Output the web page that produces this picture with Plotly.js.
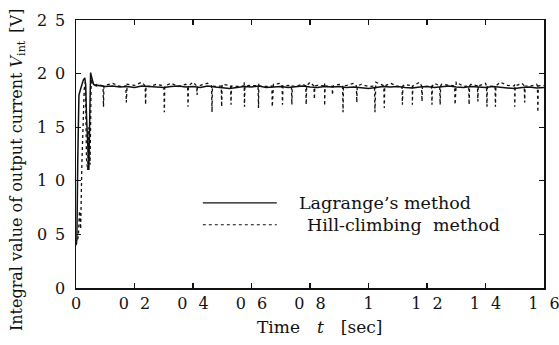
<!DOCTYPE html>
<html>
<head>
<meta charset="utf-8">
<script src="https://cdn.plot.ly/plotly-3.0.1.min.js"></script>
<style>html,body{margin:0;padding:0;background:#fff;}#chart{width:559px;height:345px;}</style>
</head>
<body>
<div id="chart"></div>
<script>
// ---- data ----
// Lagrange's method: start-up transient
const lagEarlyT = [0, 0.003, 0.006, 0.01, 0.015, 0.02, 0.025, 0.03, 0.033, 0.036, 0.04, 0.044, 0.047, 0.05, 0.053, 0.056, 0.06, 0.065, 0.07];
const lagEarlyV = [0.40, 0.45, 1.20, 1.80, 1.85, 1.90, 1.94, 1.96, 1.90, 1.60, 1.25, 1.10, 1.60, 2.01, 1.97, 1.93, 1.90, 1.89, 1.885];
// steady-state sample times (shared by both series)
const steadyT = [0.075,0.1,0.125,0.15,0.175,0.2,0.225,0.25,0.275,0.3,0.325,0.35,0.375,0.4,0.425,0.45,0.475,0.5,0.525,0.55,0.575,0.6,0.625,0.65,0.675,0.7,0.725,0.75,0.775,0.8,0.825,0.85,0.875,0.9,0.925,0.95,0.975,1.0,1.025,1.05,1.075,1.1,1.125,1.15,1.175,1.2,1.225,1.25,1.275,1.3,1.325,1.35,1.375,1.4,1.425,1.45,1.475,1.5,1.525,1.55,1.575,1.6];
const lagSteadyV = [1.89,1.88,1.885,1.875,1.88,1.87,1.885,1.88,1.875,1.87,1.88,1.885,1.875,1.88,1.87,1.885,1.875,1.865,1.86,1.87,1.88,1.875,1.885,1.87,1.875,1.88,1.87,1.88,1.885,1.875,1.87,1.88,1.875,1.88,1.87,1.875,1.865,1.86,1.87,1.88,1.875,1.88,1.87,1.865,1.875,1.88,1.87,1.875,1.885,1.875,1.87,1.88,1.875,1.87,1.88,1.875,1.865,1.86,1.87,1.875,1.865,1.87];
// Hill-climbing method: start-up, baseline and periodic dips
const hcEarlyT = [0, 0.004, 0.008, 0.012, 0.016, 0.02, 0.024, 0.028, 0.032, 0.036, 0.04, 0.044, 0.048, 0.052, 0.056, 0.06];
const hcEarlyV = [0.40, 0.45, 0.48, 0.72, 0.55, 1.15, 1.50, 1.85, 1.92, 1.20, 1.10, 1.50, 1.15, 1.95, 1.90, 1.89];
const hcBaseV = [1.90,1.89,1.91,1.88,1.90,1.89,1.92,1.88,1.90,1.89,1.91,1.88,1.90,1.92,1.89,1.91,1.88,1.90,1.89,1.88,1.92,1.89,1.91,1.88,1.90,1.91,1.89,1.88,1.90,1.92,1.89,1.91,1.88,1.90,1.89,1.91,1.90,1.88,1.92,1.89,1.91,1.88,1.90,1.89,1.92,1.88,1.91,1.90,1.89,1.92,1.88,1.90,1.89,1.91,1.88,1.92,1.89,1.90,1.91,1.88,1.90,1.89];
const hcDipT = [0.094,0.172,0.238,0.302,0.383,0.414,0.465,0.498,0.530,0.576,0.624,0.671,0.706,0.738,0.787,0.815,0.850,0.877,0.913,0.960,1.022,1.054,1.116,1.150,1.183,1.217,1.245,1.296,1.344,1.374,1.405,1.434,1.500,1.534,1.579];
const hcDipV = [1.69,1.73,1.71,1.64,1.69,1.80,1.64,1.69,1.71,1.69,1.68,1.69,1.71,1.71,1.71,1.76,1.70,1.80,1.64,1.73,1.64,1.68,1.71,1.71,1.74,1.71,1.71,1.71,1.71,1.74,1.69,1.69,1.69,1.73,1.64];
const hcDipLevel = 1.885;
// axis ticks and titles
const xTickVals = [0, 0.2, 0.4, 0.6, 0.8, 1, 1.2, 1.4, 1.6];
const xTickText = ["0", "0\u2002\u20092", "0\u2002\u20094", "0\u2002\u20096", "0\u2002\u20098", "1", "1\u2002\u20092", "1\u2002\u20094", "1\u2002\u20096"];
const yTickVals = [0, 0.5, 1, 1.5, 2, 2.5];
const yTickText = ["0", "0\u20025", "1\u20020", "1\u20025", "2\u20020", "2\u20025"];
const seriesNames = ["Lagrange\u2019s method", "Hill-climbing  method"];
const xTitle = "Time\u2003<i>t</i>\u2003[sec]";
const yTitle = "Integral value of output current <i>V</i><sub>int</sub>\u2002[V]";

// ---- build traces ----
const lagX = lagEarlyT.concat(steadyT);
const lagY = lagEarlyV.concat(lagSteadyV);

let hcPts = [];
hcEarlyT.forEach((t, i) => hcPts.push([t, hcEarlyV[i]]));
steadyT.forEach((t, i) => hcPts.push([t, hcBaseV[i]]));
hcDipT.forEach((t, i) => {
  hcPts.push([t - 0.0015, hcDipLevel]);
  hcPts.push([t, hcDipV[i]]);
  hcPts.push([t + 0.0015, hcDipLevel]);
});
hcPts.sort((a, b) => a[0] - b[0]);

const serif = "DejaVu Serif, Liberation Serif, serif";
const ink = "#111";

const traces = [
  {x: lagX, y: lagY, mode: "lines", name: seriesNames[0], line: {color: ink, width: 1.5}, showlegend: false},
  {x: hcPts.map(p => p[0]), y: hcPts.map(p => p[1]), mode: "lines", name: seriesNames[1], line: {color: ink, width: 1.3, dash: "dot"}, showlegend: false}
];

const axisCommon = {
  showgrid: false, zeroline: false, showline: true, linecolor: ink, linewidth: 1.5,
  mirror: "ticks", ticks: "inside", ticklen: 5, tickwidth: 1.2, tickcolor: ink,
  tickfont: {family: serif, size: 16, color: ink}, tickmode: "array", ticklabeloverflow: "allow"
};

const layout = {
  width: 559, height: 345,
  margin: {l: 76, r: 15, t: 20, b: 57},
  paper_bgcolor: "#fff", plot_bgcolor: "#fff",
  showlegend: false,
  xaxis: Object.assign({}, axisCommon, {range: [0, 1.6], tickvals: xTickVals, ticktext: xTickText}),
  yaxis: Object.assign({}, axisCommon, {range: [0, 2.5], tickvals: yTickVals, ticktext: yTickText, ticklabelstandoff: 6}),
  shapes: [
    {type: "line", xref: "paper", yref: "paper", x0: 0.271, x1: 0.429, y0: 0.318, y1: 0.318, line: {color: ink, width: 1.3}},
    {type: "line", xref: "paper", yref: "paper", x0: 0.271, x1: 0.429, y0: 0.236, y1: 0.236, line: {color: ink, width: 1.2, dash: "dot"}}
  ],
  annotations: [
    {xref: "paper", yref: "paper", x: 0.474, y: 0.318, xanchor: "left", yanchor: "middle", showarrow: false, borderpad: 0, text: seriesNames[0], font: {family: serif, size: 17.5, color: ink}},
    {xref: "paper", yref: "paper", x: 0.491, y: 0.236, xanchor: "left", yanchor: "middle", showarrow: false, borderpad: 0, text: seriesNames[1], font: {family: serif, size: 17.5, color: ink}},
    {xref: "paper", yref: "paper", x: 0.521, y: -0.146, xanchor: "center", yanchor: "middle", showarrow: false, text: xTitle, font: {family: serif, size: 17, color: ink}},
    {xref: "paper", yref: "paper", x: -0.126, y: 0.44, xanchor: "center", yanchor: "middle", showarrow: false, textangle: -90, text: yTitle, font: {family: serif, size: 16, color: ink}}
  ]
};

Plotly.newPlot("chart", traces, layout, {displayModeBar: false, staticPlot: true});
</script>
</body>
</html>
